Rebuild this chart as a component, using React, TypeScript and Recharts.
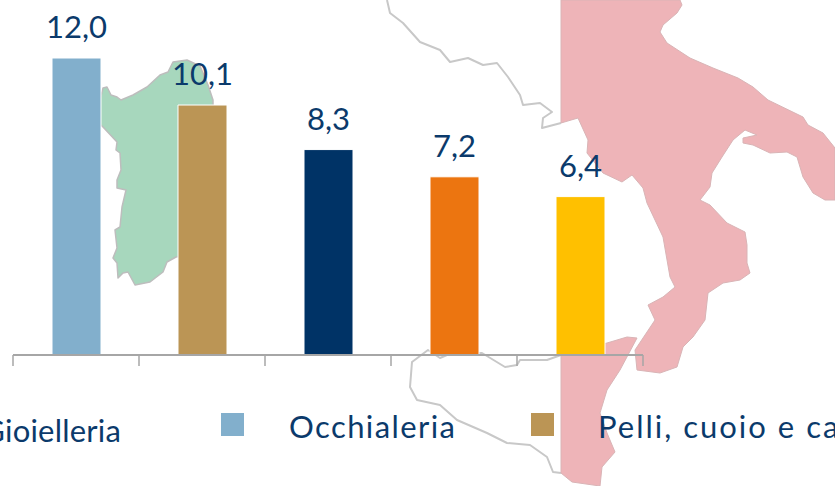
import { BarChart, Bar, XAxis, YAxis, Cell, LabelList } from 'recharts'

const categories = ['Occhialeria', 'Pelli, cuoio e calzature', 'Categoria 3', 'Categoria 4', 'Categoria 5']
const values = [12.0, 10.1, 8.3, 7.2, 6.4]
const barColors = ['#82afcc', '#bb9555', '#003366', '#ec7510', '#ffc000']
const legendNames = ['Gioielleria', 'Occhialeria', 'Pelli, cuoio e calzature']
const legendColors = ['#003366', '#82afcc', '#bb9555']

const data = categories.map((name, i) => ({ name, value: values[i] }))

const WIDTH = 835
const HEIGHT = 486
const NAVY = '#0b3a6b'
const FONT = 'Lato, "Open Sans", sans-serif'
const AXIS_HEIGHT = 131
const margin = { top: 58, right: 192, bottom: 0, left: 13 }
const band = (WIDTH - margin.left - margin.right) / categories.length

// background map, purely decorative
const sardinia = '103,88 107,87 111,95 117,97 121,100 133,95 147,87 160,75 168,72 173,62 187,60 200,66 208,85 213,100 213,250 176,257 167,262 163,272 150,282 135,285 128,272 123,273 118,278 117,263 113,258 117,248 115,230 120,227 122,207 126,190 117,188 117,180 121,170 120,153 116,150 117,142 103,127 95,120'
const peninsula = '561,0 680,0 682,5 677,13 663,25 660,32 667,43 690,58 713,68 738,78 753,87 768,100 803,117 808,125 823,133 835,148 835,200 825,200 813,193 803,177 797,157 787,152 770,153 753,145 743,143 743,138 757,135 745,130 733,140 722,157 712,173 710,187 700,200 710,205 727,223 745,232 747,245 747,263 750,273 740,280 723,283 708,293 705,320 693,337 683,347 677,367 660,373 637,370 635,350 643,338 655,320 648,305 663,297 675,287 670,277 663,237 647,203 643,188 632,175 622,182 603,173 587,153 588,140 578,118 561,123'
const sicilyPink = '561,355 607,343 627,337 637,338 620,370 607,390 600,413 607,433 615,452 602,467 600,486 572,482 561,473'
const sicilyOutline = '561,473 553,472 547,457 530,445 507,443 487,433 457,420 440,405 417,400 410,387 412,362 428,350 440,358 447,355 482,353 505,367 517,365 520,360 547,360 561,355'
const coastOutline = '387,0 390,13 403,23 420,42 440,50 450,62 468,58 483,65 497,63 508,77 520,95 523,105 540,103 552,112 543,118 542,128 561,123'

const MapBackground = () => (
  <svg width={WIDTH} height={HEIGHT} style={{ position: 'absolute', left: 0, top: 0 }}>
    <g strokeLinejoin="round">
      <polygon points={sardinia} fill="#a7d7bd" stroke="#bdbdbd" strokeWidth={1.5} />
      <polyline points={coastOutline} fill="none" stroke="#c8c8c8" strokeWidth={2} />
      <polyline points={sicilyOutline} fill="none" stroke="#c8c8c8" strokeWidth={2} />
      <polygon points={peninsula} fill="#eeb4b8" stroke="#d9b4b6" strokeWidth={1} />
      <polygon points={sicilyPink} fill="#eeb4b8" stroke="#d9b4b6" strokeWidth={1} />
    </g>
  </svg>
)

const BoundaryTick = ({ x, y, index }: any) => (
  <g stroke="#a6a6a6" strokeWidth={1.5}>
    <line x1={x - band / 2} y1={y} x2={x - band / 2} y2={y + 11} />
    {index === categories.length - 1 && <line x1={x + band / 2} y1={y} x2={x + band / 2} y2={y + 11} />}
  </g>
)

const LegendRow = () => {
  const textStyle = { position: 'absolute', fontFamily: FONT, fontSize: 31, color: NAVY, whiteSpace: 'nowrap', lineHeight: '36px' } as const
  const swatch = { position: 'absolute', top: 413, width: 23, height: 23 } as const
  return (
    <div style={{ position: 'absolute', left: 0, top: 0, width: WIDTH, height: HEIGHT }}>
      <span style={{ ...textStyle, letterSpacing: 0.2, right: WIDTH - 121, top: 412 }}>{legendNames[0]}</span>
      <div style={{ ...swatch, left: 221, background: legendColors[1] }} />
      <span style={{ ...textStyle, letterSpacing: 1.4, left: 289, top: 408 }}>{legendNames[1]}</span>
      <div style={{ ...swatch, left: 531, background: legendColors[2] }} />
      <span style={{ ...textStyle, letterSpacing: 2, left: 598, top: 408 }}>{legendNames[2]}</span>
    </div>
  )
}

export default function App() {
  return (
    <div style={{ position: 'absolute', left: 0, top: 0, width: WIDTH, height: HEIGHT, overflow: 'hidden', background: '#fff' }}>
      <MapBackground />
      <div style={{ position: 'absolute', left: 0, top: 0 }}>
        <BarChart width={WIDTH} height={HEIGHT} data={data} margin={margin}>
          <XAxis
            dataKey="name"
            interval={0}
            axisLine={{ stroke: '#a6a6a6', strokeWidth: 2 }}
            tickLine={false}
            tickSize={0}
            tickMargin={0}
            tick={<BoundaryTick />}
            height={AXIS_HEIGHT}
          />
          <YAxis hide domain={[0, 12]} />
          <Bar dataKey="value" barSize={49} isAnimationActive={false} stroke="#fff" strokeWidth={1}>
            {data.map((d, i) => (
              <Cell key={d.name} fill={barColors[i]} />
            ))}
            <LabelList
              dataKey="value"
              position="top"
              offset={20}
              formatter={(v: any) => Number(v).toFixed(1).replace('.', ',')}
              style={{ fontFamily: FONT, fontSize: 31, fill: NAVY }}
            />
          </Bar>
        </BarChart>
      </div>
      <LegendRow />
    </div>
  )
}
